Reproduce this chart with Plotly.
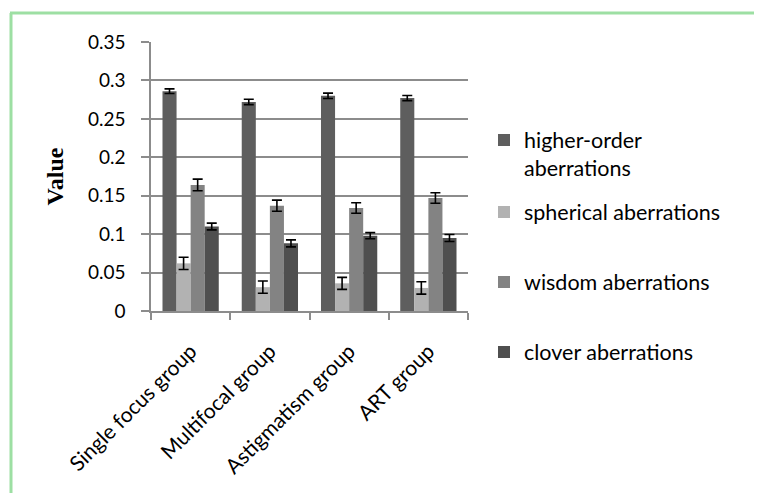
import plotly.graph_objects as go

categories = ["Single focus group", "Multifocal group", "Astigmatism group", "ART group"]
series_names = ["higher-order<br>aberrations", "spherical aberrations", "wisdom aberrations", "clover aberrations"]
higher_order = [0.286, 0.272, 0.280, 0.277]
higher_order_err = [0.003, 0.0035, 0.0035, 0.0033]
spherical = [0.062, 0.031, 0.036, 0.030]
spherical_err = [0.008, 0.008, 0.0078, 0.008]
wisdom = [0.164, 0.137, 0.134, 0.147]
wisdom_err = [0.0076, 0.0072, 0.0068, 0.0068]
clover = [0.110, 0.088, 0.098, 0.095]
clover_err = [0.0044, 0.0046, 0.004, 0.0046]
y_ticks = [0, 0.05, 0.1, 0.15, 0.2, 0.25, 0.3, 0.35]

values = [higher_order, spherical, wisdom, clover]
errors = [higher_order_err, spherical_err, wisdom_err, clover_err]
colors = ["#5e5e5e", "#b2b2b2", "#838383", "#4f4f4f"]

OFF = 8  # page body margin
W, H = 762 - OFF, 493 - OFF
L, R, T, B = 151 - OFF, 468 - OFF, 42 - OFF, 311 - OFF

def px2x(px):
    return (px - OFF - L) / (R - L)

def py2y(py):
    return (B - (py - OFF)) / (B - T)

font = "Lato, 'Open Sans', sans-serif"
legend_names = ["legend", "legend2", "legend3", "legend4"]
legend_centers = [154, 212, 282, 352]

fig = go.Figure()
for i, (name, v, e, c) in enumerate(zip(series_names, values, errors, colors)):
    fig.add_trace(go.Bar(
        x=categories, y=v, name=name, legend=legend_names[i], showlegend=True,
        marker=dict(color=c, line=dict(width=0)),
        error_y=dict(type="data", array=e, visible=True, color="black", thickness=1.6, width=5),
    ))

legend_layout = {}
for ln, cy in zip(legend_names, legend_centers):
    legend_layout[ln] = dict(
        x=px2x(484), y=py2y(cy), xanchor="left", yanchor="middle",
        font=dict(family=font, size=21.5, color="black"),
        valign="top", itemwidth=30, bgcolor="rgba(0,0,0,0)", borderwidth=0,
    )

green = "#9ddfa3"
fig.add_shape(type="line", xref="paper", yref="paper", x0=px2x(10), x1=px2x(780), y0=py2y(13), y1=py2y(13),
              line=dict(color=green, width=3))
fig.add_shape(type="line", xref="paper", yref="paper", x0=px2x(11), x1=px2x(11), y0=py2y(13), y1=py2y(510),
              line=dict(color=green, width=3))

fig.update_layout(
    width=W, height=H,
    margin=dict(l=L, r=W - R, t=T, b=H - B, autoexpand=False),
    paper_bgcolor="white", plot_bgcolor="white",
    showlegend=True,
    barmode="group", bargap=0.29, bargroupgap=0,
    font=dict(family=font, size=19, color="black"),
    xaxis=dict(type="category", tickson="boundaries", ticks="outside", ticklen=7, tickcolor="#8c8c8c",
               tickwidth=1.5, showline=True, linecolor="#8c8c8c", linewidth=1.5, tickangle=-45,
               ticklabelstandoff=18, automargin=False,
               tickfont=dict(family=font, size=21), showgrid=False),
    yaxis=dict(range=[0, 0.35], tickvals=y_ticks, ticktext=[f"{t:g}" for t in y_ticks],
               ticks="outside", ticklen=8, tickcolor="#8c8c8c", tickwidth=1.5, automargin=False,
               showline=True, linecolor="#8c8c8c", linewidth=1.5, ticklabelstandoff=12,
               showgrid=True, gridcolor="#8c8c8c", gridwidth=1.5, zeroline=False,
               tickfont=dict(family=font, size=19),
               title=dict(text="<b>Value</b>", font=dict(family="'Liberation Serif', serif", size=24), standoff=18)),
    **legend_layout,
)

fig.write_html("out.html")
